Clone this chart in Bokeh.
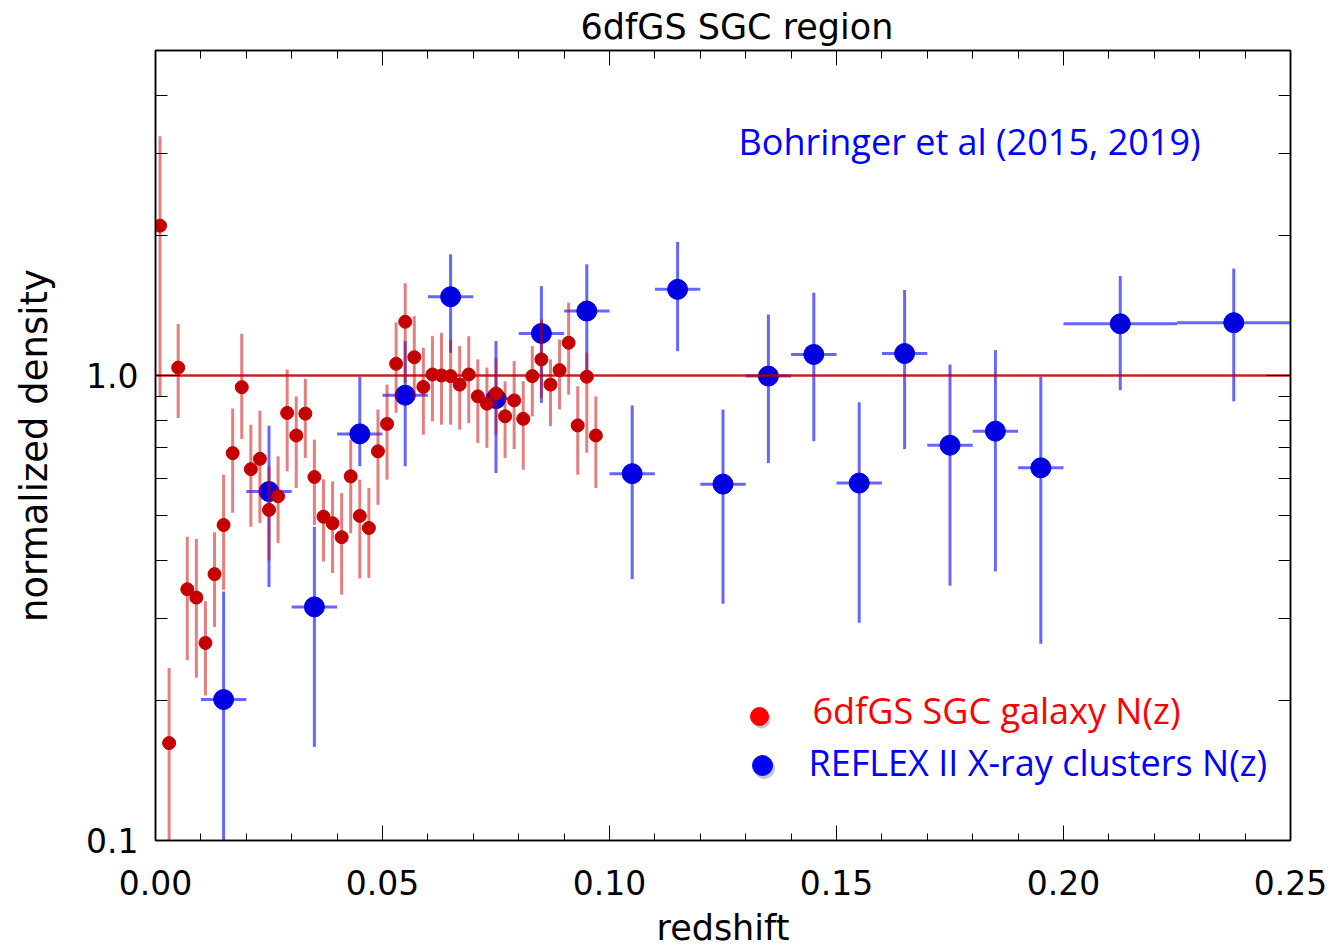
import numpy as np
from bokeh.plotting import figure
from bokeh.models import (Label, LinearAxis, LogAxis, FixedTicker, PrintfTickFormatter,
                          Range1d, CustomJSTickFormatter, ColumnDataSource)
from bokeh.embed import file_html
from bokeh.resources import INLINE

# ---------------- data ----------------
# 6dfGS SGC galaxy N(z)
gal_z = [0.001, 0.003, 0.005, 0.007, 0.009, 0.011, 0.013, 0.015, 0.017, 0.019,
         0.021, 0.023, 0.025, 0.027, 0.029, 0.031, 0.033, 0.035, 0.037, 0.039,
         0.041, 0.043, 0.045, 0.047, 0.049, 0.051, 0.053, 0.055, 0.057, 0.059,
         0.061, 0.063, 0.065, 0.067, 0.069, 0.071, 0.073, 0.075, 0.077, 0.079,
         0.081, 0.083, 0.085, 0.087, 0.089, 0.091, 0.093, 0.095, 0.097]
gal_n = [2.10, 0.162, 1.04, 0.347, 0.333, 0.266, 0.374, 0.477, 0.681, 0.944,
         0.629, 0.662, 0.514, 0.550, 0.831, 0.743, 0.828, 0.605, 0.497, 0.481,
         0.449, 0.607, 0.499, 0.470, 0.687, 0.787, 1.06, 1.305, 1.095, 0.945,
         1.005, 1.000, 0.997, 0.956, 1.005, 0.902, 0.870, 0.915, 0.817, 0.884,
         0.807, 0.997, 1.083, 0.956, 1.027, 1.176, 0.781, 0.994, 0.743]
gal_lo = [0.90, 0.09, 0.81, 0.244, 0.224, 0.205, 0.288, 0.346, 0.507, 0.73,
          0.473, 0.482, 0.40, 0.436, 0.622, 0.573, 0.665, 0.477, 0.398, 0.376,
          0.338, 0.458, 0.366, 0.367, 0.527, 0.597, 0.831, 0.966, 0.895, 0.746,
          0.797, 0.784, 0.784, 0.765, 0.79, 0.716, 0.699, 0.746, 0.665, 0.695,
          0.627, 0.817, 0.895, 0.778, 0.845, 0.91, 0.612, 0.682, 0.573]
gal_hi = [3.27, 0.235, 1.29, 0.45, 0.445, 0.327, 0.46, 0.612, 0.849, 1.23,
          0.784, 0.84, 0.638, 0.67, 1.03, 0.902, 0.984, 0.728, 0.598, 0.592,
          0.559, 0.728, 0.597, 0.573, 0.845, 0.956, 1.30, 1.58, 1.342, 1.147,
          1.215, 1.236, 1.195, 1.157, 1.215, 1.083, 1.04, 1.092, 0.972, 1.074,
          0.972, 1.157, 1.32, 1.083, 1.195, 1.434, 0.948, 1.12, 0.902]

# REFLEX II X-ray clusters N(z)
cl_z = [0.015, 0.025, 0.035, 0.045, 0.055, 0.065, 0.075, 0.085, 0.095, 0.105,
        0.115, 0.125, 0.135, 0.145, 0.155, 0.165, 0.175, 0.185, 0.195, 0.2125, 0.2375]
cl_zmin = [0.010, 0.020, 0.030, 0.040, 0.050, 0.060, 0.070, 0.080, 0.090, 0.100,
           0.110, 0.120, 0.130, 0.140, 0.150, 0.160, 0.170, 0.180, 0.190, 0.200, 0.225]
cl_zmax = [0.020, 0.030, 0.040, 0.050, 0.060, 0.070, 0.080, 0.090, 0.100, 0.110,
           0.120, 0.130, 0.140, 0.150, 0.160, 0.170, 0.180, 0.190, 0.200, 0.225, 0.250]
cl_n = [0.201, 0.563, 0.318, 0.749, 0.907, 1.477, 0.892, 1.232, 1.376, 0.615,
        1.532, 0.584, 0.997, 1.11, 0.587, 1.115, 0.708, 0.759, 0.633, 1.292, 1.299]
cl_lo = [0.09, 0.351, 0.159, 0.638, 0.638, 1.119, 0.617, 0.873, 1.0, 0.365,
         1.128, 0.323, 0.648, 0.722, 0.294, 0.695, 0.353, 0.379, 0.265, 0.93, 0.88]
cl_hi = [0.343, 0.78, 0.473, 0.994, 1.186, 1.823, 1.186, 1.557, 1.735, 0.862,
         1.937, 0.845, 1.353, 1.507, 0.876, 1.527, 1.056, 1.134, 0.994, 1.637, 1.698]

ref_level = 1.0
x_ticks = [0.0, 0.05, 0.10, 0.15, 0.20, 0.25]
x_minor = [0.01, 0.02, 0.03, 0.04, 0.06, 0.07, 0.08, 0.09, 0.11, 0.12, 0.13, 0.14,
           0.16, 0.17, 0.18, 0.19, 0.21, 0.22, 0.23, 0.24]
y_ticks = [0.1, 1.0]
y_minor = [0.2, 0.3, 0.4, 0.5, 0.6, 0.7, 0.8, 0.9, 2.0, 3.0, 4.0]

title_text = "6dfGS SGC region"
ref_text = "Bohringer et al (2015, 2019)"
gal_label = "6dfGS SGC galaxy N(z)"
cl_label = "REFLEX II X-ray clusters N(z)"

# ---------------- layout ----------------
X0, X1 = 0.0, 0.25
Y0, Y1 = 0.1, 5.0
FL, FR, FT, FB = 155, 1290, 50, 840  # frame edges in pixels
TXT_SHIFT = 14  # baseline correction for annotation labels


def px2x(px):
    return X0 + (px - FL) / (FR - FL) * (X1 - X0)


def py2y(py):
    l0, l1 = np.log10(Y0), np.log10(Y1)
    return 10 ** (l0 + (FB - py) / (FB - FT) * (l1 - l0))


AX_FONT = "DejaVu Sans"

p = figure(width=1334, height=950, x_range=Range1d(X0, X1), y_range=Range1d(Y0, Y1),
           y_axis_type="log", output_backend="svg", toolbar_location=None,
           min_border_left=FL, min_border_right=1334 - FR,
           min_border_top=FT, min_border_bottom=950 - FB,
           x_axis_label="redshift", y_axis_label="normalized density",
           title=title_text)
p.title.align = "left"
p.title.offset = 425
p.title.text_font = AX_FONT
p.title.text_font_size = "35px"
p.title.text_font_style = "normal"
p.title.text_color = "black"
p.title.standoff = 7
p.grid.visible = False
p.outline_line_color = "black"
p.outline_line_width = 1.5
p.background_fill_color = "white"
p.border_fill_color = "white"

xa = p.xaxis[0]
xa.ticker = FixedTicker(ticks=x_ticks, minor_ticks=x_minor)
xa.formatter = PrintfTickFormatter(format="%.2f")
xa.major_tick_in = 15
xa.major_tick_out = 0
xa.minor_tick_in = 7
xa.minor_tick_out = 0
xa.major_label_standoff = 29
xa.major_label_text_font = AX_FONT
xa.major_label_text_font_size = "33px"
xa.major_label_text_color = "black"
xa.axis_label_text_font = AX_FONT
xa.axis_label_text_font_size = "35px"
xa.axis_label_text_font_style = "normal"
xa.axis_label_text_color = "black"
xa.axis_label_standoff = 10
xa.axis_line_width = 1.5

ya = p.yaxis[0]
ya.ticker = FixedTicker(ticks=y_ticks, minor_ticks=y_minor)
ya.formatter = PrintfTickFormatter(format="%.1f")
ya.major_tick_in = 24
ya.major_tick_out = 0
ya.minor_tick_in = 12
ya.minor_tick_out = 0
ya.major_label_standoff = 17
ya.major_label_text_font = AX_FONT
ya.major_label_text_font_size = "33px"
ya.major_label_text_color = "black"
ya.axis_label_text_font = AX_FONT
ya.axis_label_text_font_size = "37px"
ya.axis_label_text_font_style = "normal"
ya.axis_label_text_color = "black"
ya.axis_label_standoff = 27
ya.axis_line_width = 1.5

blank = CustomJSTickFormatter(code="return ''")
top = LinearAxis(ticker=FixedTicker(ticks=x_ticks, minor_ticks=x_minor), formatter=blank,
                 major_tick_in=15, major_tick_out=0, minor_tick_in=8, minor_tick_out=0,
                 major_label_standoff=0, major_label_text_font_size="1px", axis_line_width=1.5)
p.add_layout(top, "above")
right = LogAxis(ticker=FixedTicker(ticks=y_ticks, minor_ticks=y_minor), formatter=blank,
                major_tick_in=24, major_tick_out=0, minor_tick_in=12, minor_tick_out=0,
                major_label_standoff=0, major_label_text_font_size="1px", axis_line_width=1.5)
p.add_layout(right, "right")

# ---------------- clusters (blue) ----------------
cl_src = ColumnDataSource(dict(z=cl_z, zmin=cl_zmin, zmax=cl_zmax, n=cl_n, lo=cl_lo, hi=cl_hi))
p.segment(x0="z", y0="lo", x1="z", y1="hi", source=cl_src,
          line_color="#0000FF", line_alpha=0.6, line_width=3)
p.segment(x0="zmin", y0="n", x1="zmax", y1="n", source=cl_src,
          line_color="#0000FF", line_alpha=0.6, line_width=3)
p.scatter(x="z", y="n", source=cl_src, size=20, marker="circle",
          fill_color="#0000E0", line_color="#0000E0")

# ---------------- reference line ----------------
p.line([X0, X1], [ref_level, ref_level], line_color="#B00000", line_alpha=0.85, line_width=2.5)

# ---------------- galaxies (red) ----------------
gal_src = ColumnDataSource(dict(z=gal_z, n=gal_n, lo=gal_lo, hi=gal_hi))
p.segment(x0="z", y0="lo", x1="z", y1="hi", source=gal_src,
          line_color="#CC0000", line_alpha=0.5, line_width=3)
p.scatter(x="z", y="n", source=gal_src, size=13, marker="circle",
          fill_color="#C40000", line_color="#C40000")

# ---------------- annotations ----------------
ANN_FONT = "Open Sans"
ANN_SIZE = "36px"
p.add_layout(Label(x=px2x(738), y=py2y(155 - TXT_SHIFT), text=ref_text, text_align="left",
                   text_baseline="alphabetic", text_font=ANN_FONT, text_font_size=ANN_SIZE,
                   text_color="#0000FF"))

# manual legend
p.scatter(x=[px2x(761), px2x(764)], y=[py2y(719), py2y(768)], size=[18, 21],
          fill_color="#808080", fill_alpha=0.45, line_color=None)
p.scatter(x=[px2x(759)], y=[py2y(716)], size=18, fill_color="#FF0000", line_color="#FF0000")
p.scatter(x=[px2x(762)], y=[py2y(765)], size=20, fill_color="#0000FF", line_color="#0000FF")
p.add_layout(Label(x=px2x(812), y=py2y(724 - TXT_SHIFT), text=gal_label, text_align="left",
                   text_baseline="alphabetic", text_font=ANN_FONT, text_font_size=ANN_SIZE,
                   text_color="#FF0000"))
p.add_layout(Label(x=px2x(808), y=py2y(776 - TXT_SHIFT), text=cl_label, text_align="left",
                   text_baseline="alphabetic", text_font=ANN_FONT, text_font_size=ANN_SIZE,
                   text_color="#0000FF"))

open("out.html", "w").write(file_html(p, INLINE))
